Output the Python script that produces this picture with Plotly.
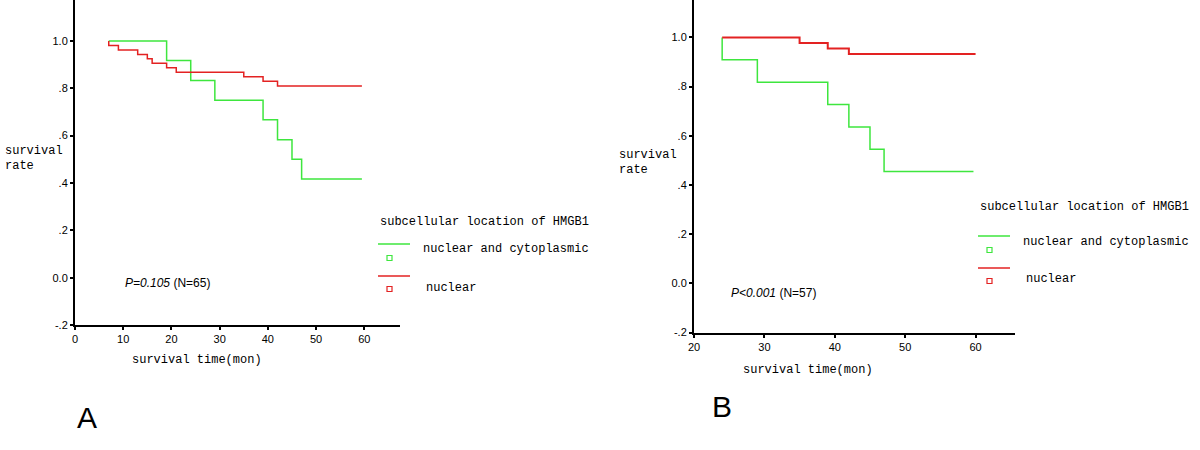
import plotly.graph_objects as go

# ---------------- data ----------------
# Panel A (N=65)
a_green_t = [7, 19, 24, 29, 39, 42, 45, 47, 59.5]
a_green_s = [1.0, 0.917, 0.833, 0.75, 0.667, 0.583, 0.5, 0.417, 0.417]
a_red_t = [7, 7, 9, 13, 15, 16, 19, 21, 35, 39, 42, 59.5]
a_red_s = [1.0, 0.981, 0.962, 0.943, 0.925, 0.906, 0.887, 0.868, 0.849, 0.830, 0.810, 0.810]

# Panel B (N=57)
b_green_t = [24, 24, 29, 39, 42, 45, 47, 59.7]
b_green_s = [1.0, 0.909, 0.818, 0.727, 0.636, 0.545, 0.455, 0.455]
b_red_t = [24, 35, 39, 42, 60]
b_red_s = [1.0, 0.977, 0.955, 0.932, 0.932]

y_tickvals = [-0.2, 0.0, 0.2, 0.4, 0.6, 0.8, 1.0]
y_ticktext = ["-.2", "0.0", ".2", ".4", ".6", ".8", "1.0"]
a_xticks = [0, 10, 20, 30, 40, 50, 60]
b_xticks = [20, 30, 40, 50, 60]

legend_title = "subcellular location of HMGB1"
legend_labels = ["nuclear and cytoplasmic", "nuclear"]

GREEN = "#3ee63e"
RED = "#e32222"
W, H = 1200, 450
MONO = "Liberation Mono"

def px(x):
    return x / W

def py(y):
    return 1 - y / H

fig = go.Figure()
fig.add_trace(go.Scatter(x=a_green_t, y=a_green_s, mode="lines", line=dict(shape="hv", color=GREEN, width=1.5),
                         xaxis="x", yaxis="y", showlegend=False))
fig.add_trace(go.Scatter(x=a_red_t, y=a_red_s, mode="lines", line=dict(shape="hv", color=RED, width=1.5),
                         xaxis="x", yaxis="y", showlegend=False))
fig.add_trace(go.Scatter(x=b_green_t, y=b_green_s, mode="lines", line=dict(shape="hv", color=GREEN, width=1.5),
                         xaxis="x2", yaxis="y2", showlegend=False))
fig.add_trace(go.Scatter(x=b_red_t, y=b_red_s, mode="lines", line=dict(shape="hv", color=RED, width=2),
                         xaxis="x2", yaxis="y2", showlegend=False))

axis_common = dict(showline=True, linecolor="black", linewidth=2, ticks="outside", ticklen=3,
                   tickwidth=2, tickcolor="black", showgrid=False, zeroline=False, automargin=False,
                   tickfont=dict(family="Liberation Sans", size=11, color="black"))

fig.update_layout(
    template="none",
    width=W, height=H, margin=dict(l=0, r=0, t=0, b=0, pad=0),
    paper_bgcolor="white", plot_bgcolor="white",
    xaxis=dict(domain=[px(75), px(400)], range=[0, 67.4], tickvals=a_xticks, anchor="y", **axis_common),
    yaxis=dict(domain=[py(325), 1], range=[-0.2, 1.173], tickvals=y_tickvals, ticktext=y_ticktext,
               anchor="x", **axis_common),
    xaxis2=dict(domain=[px(694), px(1015)], range=[20, 65.6], tickvals=b_xticks, anchor="y2", **axis_common),
    yaxis2=dict(domain=[py(332.5), 1], range=[-0.2, 1.152], tickvals=y_tickvals, ticktext=y_ticktext,
                anchor="x2", **axis_common),
)

ann = []
shapes = []

def text(x, y, s, size=12, family=MONO, xanchor="left"):
    ann.append(dict(x=px(x), y=py(y), xref="paper", yref="paper", text=s, showarrow=False,
                    xanchor=xanchor, yanchor="middle", align="left",
                    font=dict(family=family, size=size, color="black")))

# Panel A texts
text(3, 151, "survival")
text(3, 166, "rate")
text(197, 360, "survival time(mon)", xanchor="center")
text(123, 283, "<i>P=0.105</i> (N=65)", size=12, family="Liberation Sans")
text(87, 417, "A", size=30, family="Liberation Sans", xanchor="center")

# Panel B texts
text(617, 155, "survival")
text(617, 170, "rate")
text(808, 370, "survival time(mon)", xanchor="center")
text(729, 293, "<i>P&lt;0.001</i> (N=57)", size=12, family="Liberation Sans")
text(722, 406, "B", size=30, family="Liberation Sans", xanchor="center")

# Legends
def legend(x0, y_title, y_l1, y_s1, y_t1, y_l2, y_s2, y_t2):
    text(x0, y_title, legend_title)
    for (yl, ys, yt, col, lab, dx) in [(y_l1, y_s1, y_t1, GREEN, legend_labels[0], 43),
                                       (y_l2, y_s2, y_t2, RED, legend_labels[1], 46)]:
        shapes.append(dict(type="line", xref="paper", yref="paper", x0=px(x0), x1=px(x0 + 32),
                           y0=py(yl), y1=py(yl), line=dict(color=col, width=1.5)))
        shapes.append(dict(type="rect", xref="paper", yref="paper", x0=px(x0 + 9), x1=px(x0 + 14),
                           y0=py(ys - 2.5), y1=py(ys + 2.5), line=dict(color=col, width=1.2)))
        text(x0 + dx, yt, lab)

legend(378, 222, 244, 258, 249, 276, 289, 288)
legend(978, 207, 236, 250, 242, 268, 281, 279)

fig.update_layout(annotations=ann, shapes=shapes)
fig.write_html("out.html", config={"displayModeBar": False},
               post_script="document.body.style.margin='0px';")
